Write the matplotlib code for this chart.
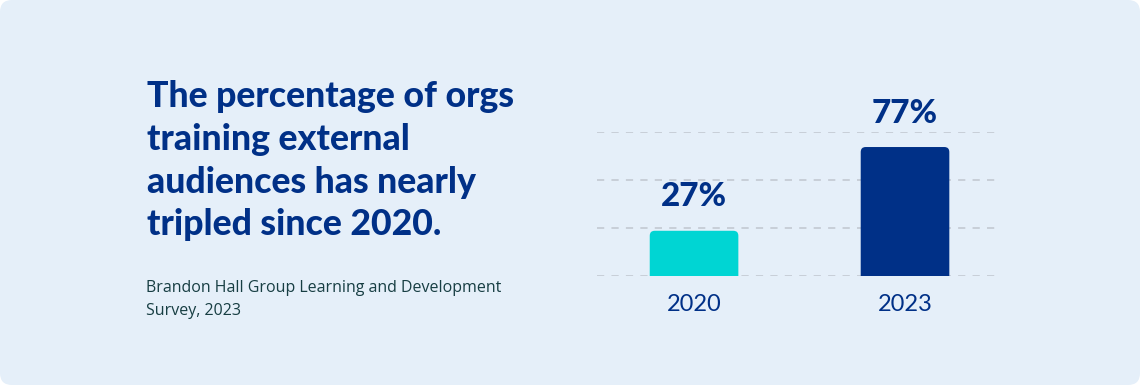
import numpy as np
import matplotlib.pyplot as plt
from matplotlib.patches import FancyBboxPatch

years = ['2020', '2023']
pct = [27, 77]
bar_colors = ['#00D5D3', '#003087']

title_lines = ['The percentage of orgs', 'training external',
               'audiences has nearly', 'tripled since 2020.']
source_lines = ['Brandon Hall Group Learning and Development', 'Survey, 2023']

navy = '#003087'
W, H = 1140, 385

fig = plt.figure(figsize=(W / 100, H / 100), dpi=100)
fig.patch.set_facecolor('white')

# rounded light-blue panel behind everything
r = 12
panel = FancyBboxPatch((r / W, r / H), 1 - 2 * r / W, 1 - 2 * r / H,
                       boxstyle=f'round,pad={r / W},rounding_size={r / W}',
                       mutation_aspect=W / H, transform=fig.transFigure,
                       facecolor='#E5EFF9', edgecolor='none', zorder=-5)
fig.patches.append(panel)

# headline
for i, line in enumerate(title_lines):
    fig.text(147 / W, 1 - (107 + i * 42.8) / H, line, fontsize=25.7,
             fontfamily='Lato', fontweight='black', color=navy, va='baseline')

for i, line in enumerate(source_lines):
    fig.text(146 / W, 1 - (292 + i * 23.3) / H, line, fontsize=11.5,
             fontfamily='Open Sans', color='#173E43', va='baseline')

ax = fig.add_axes([597 / W, 1 - 276 / H, 400 / W, 144.3 / H], zorder=2)
ax.set_facecolor('none')
x = np.arange(len(years))
bars = ax.bar(x, pct, width=0.42, color=bar_colors)
ax.set_xlim(-0.46, 1.436)
ymax = 144.3 / 1.675
ax.set_ylim(0, ymax)
ax.set_yticks(np.linspace(0, ymax, 4))
ax.yaxis.grid(True, linestyle=(0, (4, 4)), color='#C5CCD5', linewidth=1.3)
ax.set_axisbelow(True)
for s in ax.spines.values():
    s.set_visible(False)
ax.tick_params(axis='y', length=0, labelleft=False)
ax.tick_params(axis='x', length=0, pad=13)
ax.set_xticks(x)
ax.set_xticklabels(years, fontsize=17, fontfamily='Lato', color=navy)

# swap the plain bars for ones with rounded top corners
fig.canvas.draw()
px_x = ax.transData.transform((1, 0))[0] - ax.transData.transform((0, 0))[0]
px_y = ax.transData.transform((0, 1))[1] - ax.transData.transform((0, 0))[1]
rad = 5 / px_x
for b in bars:
    b.set_visible(False)
    bx, bw, bh = b.get_x(), b.get_width(), b.get_height()
    ax.add_patch(FancyBboxPatch((bx, -10), bw, bh + 10,
                                boxstyle=f'round,pad=0,rounding_size={rad}',
                                mutation_aspect=px_x / px_y,
                                facecolor=b.get_facecolor(), edgecolor='none',
                                zorder=2))
    ax.annotate(f'{bh:.0f}%', (bx + bw / 2, bh), xytext=(0, 14),
                textcoords='offset points', ha='center', va='bottom',
                fontsize=24, fontfamily='Lato', fontweight='black',
                color=navy, annotation_clip=False)

fig.savefig('out.png', dpi=100, facecolor=fig.get_facecolor())
